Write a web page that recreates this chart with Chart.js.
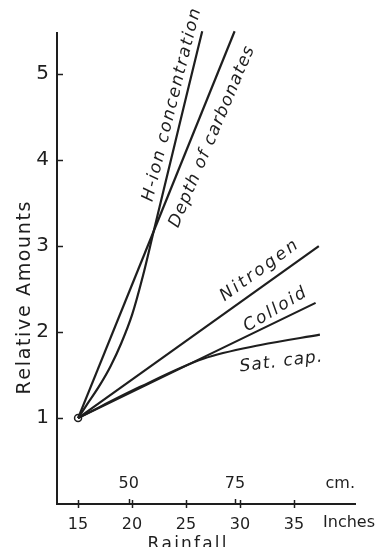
<!DOCTYPE html>
<html>
<head>
<meta charset="utf-8">
<script src="https://cdn.jsdelivr.net/npm/chart.js@4.4.1/dist/chart.umd.min.js"></script>
<style>
  html, body { margin: 0; padding: 0; background: #fff; }
  #wrap { width: 378px; height: 547px; position: relative; }
</style>
</head>
<body>
<div id="wrap"><canvas id="graf"></canvas></div>
<script>
// rainfall in inches on x, relative amounts on y
const inchTicks = [15, 20, 25, 30, 35];
const cmTicks   = [50, 75];
const yTicks    = [1, 2, 3, 4, 5];

const hIonX  = [15, 16, 17, 18, 19, 20, 21, 22, 23, 24, 25, 26.5];
const hIonY  = [1, 1.19, 1.38, 1.6, 1.87, 2.2, 2.65, 3.17, 3.69, 4.21, 4.73, 5.5];
const depthX = [15, 29.5];
const depthY = [1, 5.5];
const nitroX = [15, 37.3];
const nitroY = [1, 3.0];
const collX  = [15, 37.0];
const collY  = [1, 2.34];
const satX   = [15, 20.7, 26.6, 31.9, 37.4];
const satY   = [1, 1.36, 1.69, 1.85, 1.97];
const origenX = [15];
const origenY = [1];

const TINTA = '#1e1e1e';
const FUENTE = "'DejaVu Sans', sans-serif";

const pares = (xs, ys) => xs.map((x, i) => ({ x, y: ys[i] }));

const linea = (label, xs, ys) => ({
  label, data: pares(xs, ys),
  borderColor: TINTA, borderWidth: 2.2, pointRadius: 0, fill: false,
  cubicInterpolationMode: 'monotone', clip: false
});

// texto con espaciado ajustado a un largo dado
function textoEspaciado(ctx, texto, cx, cy, angulo, fuente, largo) {
  ctx.save();
  ctx.font = fuente;
  const anchos = [...texto].map(c => ctx.measureText(c).width);
  const total  = anchos.reduce((s, w) => s + w, 0);
  const extra  = texto.length > 1 ? (largo - total) / (texto.length - 1) : 0;
  ctx.translate(cx, cy);
  ctx.rotate(angulo * Math.PI / 180);
  ctx.textBaseline = 'middle';
  ctx.textAlign = 'left';
  let x = -largo / 2;
  [...texto].forEach((c, i) => { ctx.fillText(c, x, 0); x += anchos[i] + extra; });
  ctx.restore();
}

const extras = {
  id: 'extras',
  afterDraw(chart) {
    const { ctx, chartArea: a, scales: { x, y } } = chart;
    ctx.save();
    ctx.strokeStyle = TINTA;
    ctx.fillStyle = TINTA;
    ctx.lineWidth = 1.5;

    // marcas del eje y hacia adentro
    yTicks.forEach(v => {
      const py = Math.round(y.getPixelForValue(v)) + 0.5;
      ctx.beginPath(); ctx.moveTo(a.left, py); ctx.lineTo(a.left + 6, py); ctx.stroke();
    });
    // marcas del eje x
    inchTicks.forEach(v => {
      const px = Math.round(x.getPixelForValue(v)) + 0.5;
      ctx.beginPath(); ctx.moveTo(px, a.bottom - 4); ctx.lineTo(px, a.bottom + 4); ctx.stroke();
    });
    cmTicks.forEach(v => {
      const px = Math.round(x.getPixelForValue(v / 2.54)) + 0.5;
      ctx.beginPath(); ctx.moveTo(px, a.bottom - 5); ctx.lineTo(px, a.bottom); ctx.stroke();
    });

    // etiquetas en cm
    ctx.font = `16px ${FUENTE}`;
    ctx.textAlign = 'center';
    ctx.textBaseline = 'middle';
    cmTicks.forEach(v => ctx.fillText(String(v), x.getPixelForValue(v / 2.54), a.bottom - 20));
    ctx.textAlign = 'right';
    ctx.fillText('cm.', a.right, a.bottom - 20);
    ctx.fillText('Inches', chart.width - 3, a.bottom + 19);

    // titulos
    textoEspaciado(ctx, 'Relative Amounts', 25, 298, -90, `19px ${FUENTE}`, 193);
    textoEspaciado(ctx, 'Rainfall', 187, 545, 0, `17px ${FUENTE}`, 79);

    // nombres de las curvas
    textoEspaciado(ctx, 'H-ion concentration', 172, 105, -76, `italic 17px ${FUENTE}`, 198);
    textoEspaciado(ctx, 'Depth of carbonates', 212, 137, -67, `italic 17px ${FUENTE}`, 195);
    textoEspaciado(ctx, 'Nitrogen', 259, 271, -36, `italic 17px ${FUENTE}`, 92);
    textoEspaciado(ctx, 'Colloid', 275, 310, -31, `italic 17px ${FUENTE}`, 70);
    textoEspaciado(ctx, 'Sat. cap.', 281, 362, -7, `italic 17px ${FUENTE}`, 83);
    ctx.restore();
  }
};

new Chart(document.getElementById('graf'), {
  type: 'line',
  data: {
    datasets: [
      linea('H-ion concentration', hIonX, hIonY),
      linea('Depth of carbonates', depthX, depthY),
      linea('Nitrogen', nitroX, nitroY),
      linea('Colloid', collX, collY),
      linea('Sat. cap.', satX, satY),
      {
        label: 'origen', data: pares(origenX, origenY), showLine: false,
        pointRadius: 3.5, pointBackgroundColor: '#fff', pointBorderColor: TINTA,
        pointBorderWidth: 1.5, clip: false
      }
    ]
  },
  options: {
    responsive: true, maintainAspectRatio: false, animation: false,
    layout: { padding: { top: 33, right: 23, left: 0, bottom: 0 } },
    plugins: { legend: { display: false }, tooltip: { enabled: false } },
    scales: {
      x: {
        type: 'linear', min: 13.05, max: 40.65,
        afterFit: s => { s.height = 43; },
        afterBuildTicks: s => { s.ticks = inchTicks.map(v => ({ value: v })); },
        grid: { display: false, drawTicks: false },
        border: { color: TINTA, width: 2 },
        ticks: { color: TINTA, font: { family: FUENTE, size: 16 }, padding: 11, maxRotation: 0 }
      },
      y: {
        min: 0, max: 5.48,
        afterFit: s => { s.width = 57; },
        afterBuildTicks: s => { s.ticks = yTicks.map(v => ({ value: v })); },
        grid: { display: false, drawTicks: false },
        border: { color: TINTA, width: 2 },
        ticks: { color: TINTA, font: { family: FUENTE, size: 20 }, padding: 8 }
      }
    }
  },
  plugins: [extras]
});
</script>
</body>
</html>
